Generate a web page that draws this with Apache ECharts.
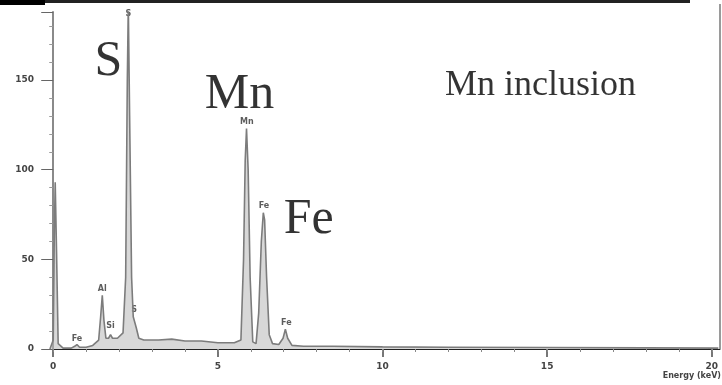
<!DOCTYPE html>
<html>
<head>
<meta charset="utf-8">
<script src="https://cdn.jsdelivr.net/npm/echarts@6/dist/echarts.min.js"></script>
<style>html,body{margin:0;padding:0;background:#fff}#c{width:722px;height:385px}</style>
</head>
<body>
<div id="c"></div>
<script>
// Spectrum (energy in keV, counts)
const energy = [-0.1, 0.0, 0.03, 0.06, 0.1, 0.15, 0.3, 0.55, 0.65, 0.72, 0.8, 1.0, 1.2, 1.38, 1.44, 1.49, 1.54, 1.6, 1.68, 1.74, 1.8, 1.95, 2.12, 2.2, 2.25, 2.28, 2.32, 2.38, 2.43, 2.47, 2.52, 2.6, 2.75, 3.2, 3.6, 4.0, 4.5, 5.0, 5.5, 5.7, 5.78, 5.83, 5.87, 5.92, 5.98, 6.06, 6.16, 6.24, 6.32, 6.38, 6.42, 6.48, 6.56, 6.66, 6.85, 6.98, 7.05, 7.12, 7.25, 7.6, 8.5, 10, 12, 15, 18, 20.2];
const counts = [0, 5, 60, 93, 55, 3, 0.5, 0.5, 1.5, 2.5, 1, 1, 2, 5, 18, 30, 16, 6, 6, 8, 6, 6, 9, 40, 150, 192, 130, 40, 18, 18, 12, 6, 5, 5, 5.5, 4.5, 4.5, 3.5, 3.5, 5, 50, 105, 123, 100, 40, 4, 3, 20, 60, 76, 72, 40, 8, 3, 2.5, 6, 11, 6, 2, 1.5, 1.5, 1.2, 1, 0.8, 0.6, 0.5];

// Small peak identification labels
const peakNames = ["S", "Mn", "Fe", "Al", "Si", "Fe", "Fe", "S"];
const peakEnergy = [2.28, 5.88, 6.40, 1.49, 1.74, 0.72, 7.08, 2.46];
const peakCounts = [184, 124, 77, 31, 10, 3, 12, 19];

// Axis ticks
const xMajorTicks = [0, 5, 10, 15, 20];
const xMinorTicks = [0,1,2,3,4,5,6,7,8,9,10,11,12,13,14,15,16,17,18,19,20];

// Big annotations [text, energy, counts, fontSize]
const annoText = ["S", "Mn", "Fe", "Mn inclusion"];
const annoEnergy = [1.25, 4.6, 7.0, 11.9];
const annoCounts = [160, 142, 72, 147];
const annoSize = [50, 50, 50, 36];

const chart = echarts.init(document.getElementById('c'));
const grid = {left: 45, right: 2, top: 12, bottom: 36};
const xBase = {type: 'value', min: -0.25, max: 20.25, splitLine: {show: false}};

chart.setOption({
  animation: false,
  backgroundColor: '#fff',
  grid: grid,
  xAxis: [
    Object.assign({}, xBase, {
      position: 'bottom',
      axisLine: {show: true, lineStyle: {color: '#222', width: 1}},
      axisTick: {show: true, customValues: xMajorTicks, length: 8, lineStyle: {color: '#777', width: 2}},
      axisLabel: {show: true, customValues: xMajorTicks, color: '#444', fontSize: 9, fontWeight: 'bold', margin: 13, fontFamily: 'DejaVu Sans'}
    }),
    Object.assign({}, xBase, {
      position: 'bottom',
      axisLine: {show: false},
      axisTick: {show: true, customValues: xMinorTicks, length: 3, lineStyle: {color: '#888', width: 1}},
      axisLabel: {show: false}
    })
  ],
  yAxis: {
    type: 'value', min: 0, max: 188, interval: 50,
    splitLine: {show: false},
    axisLine: {show: true, lineStyle: {color: '#8a8a8a', width: 2}},
    axisTick: {show: true, length: 12, lineStyle: {color: '#666', width: 1}},
    minorTick: {show: true, splitNumber: 5, length: 4, lineStyle: {color: '#999'}},
    axisLabel: {color: '#444', fontSize: 9, fontWeight: 'bold', margin: 11, showMaxLabel: false, fontFamily: 'DejaVu Sans'}
  },
  series: [
    {
      type: 'line',
      data: energy.map((e, i) => [e, counts[i]]),
      symbol: 'none',
      clip: true,
      lineStyle: {color: '#7c7c7c', width: 1.6},
      areaStyle: {color: '#b8b8b8', opacity: 0.55}
    },
    {
      type: 'scatter',
      data: peakEnergy.map((e, i) => ({value: [e, peakCounts[i]], name: peakNames[i]})),
      symbolSize: 0,
      clip: false,
      label: {show: true, position: 'top', distance: 1, formatter: p => p.name, color: '#333', fontSize: 8, fontWeight: 'bold', fontFamily: 'DejaVu Sans'}
    },
    {
      type: 'scatter',
      data: annoEnergy.map((e, i) => ({value: [e, annoCounts[i]], name: annoText[i], label: {fontSize: annoSize[i]}})),
      symbolSize: 0,
      clip: false,
      label: {show: true, position: 'right', distance: 0, formatter: p => p.name, color: '#000', fontFamily: 'Liberation Serif', textBorderWidth: 0}
    }
  ],
  graphic: [
    {type: 'rect', left: 0, top: 0, shape: {width: 45, height: 5}, style: {fill: '#000'}},
    {type: 'rect', left: 45, top: 0, shape: {width: 645, height: 3}, style: {fill: '#222'}},
    {type: 'rect', left: 719, top: 4, shape: {width: 2, height: 345}, style: {fill: '#9a9a9a'}},
    {type: 'text', right: 1, top: 372, style: {text: 'Energy (keV)', fontSize: 8, fontWeight: 'bold', fill: '#444', fontFamily: 'DejaVu Sans'}}
  ]
});
</script>
</body>
</html>
